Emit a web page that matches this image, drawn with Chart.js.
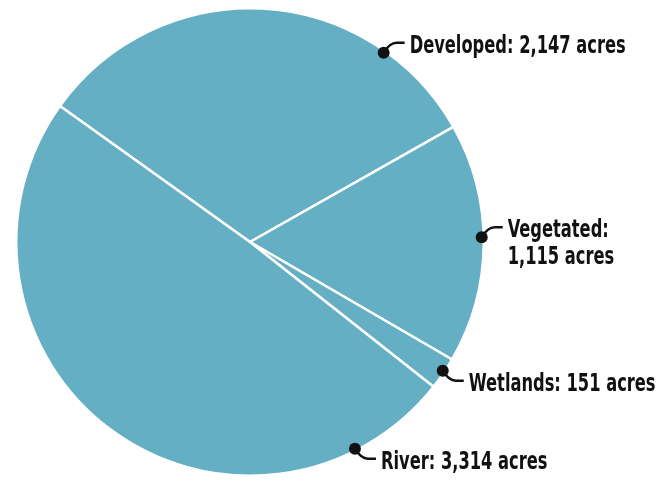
<!DOCTYPE html>
<html>
<head>
<meta charset="utf-8">
<script src="https://cdn.jsdelivr.net/npm/chart.js@4"></script>
<style>
  html, body { margin: 0; padding: 0; background: #ffffff; }
  #wrap { width: 661px; height: 484px; position: relative; }
</style>
</head>
<body>
<div id="wrap"><canvas id="chart"></canvas></div>
<script>
const categories = ["Developed", "Vegetated", "Wetlands", "River"];
const acres = [2147, 1115, 151, 3314];
const labelLines = [
    ["Developed: 2,147 acres"],
    ["Vegetated:", "1,115 acres"],
    ["Wetlands: 151 acres"],
    ["River: 3,314 acres"]
];
// where along each slice the callout dot sits (fraction of the arc)
const dotAt = [0.78, 0.475, 0.44, 0.14];
const leaderUp = [true, true, false, false];

const calloutPlugin = {
    id: "callouts",
    afterDraw(chart) {
        const ctx = chart.ctx;
        const arcs = chart.getDatasetMeta(0).data;
        ctx.save();
        ctx.font = 'bold 24px "Liberation Sans Narrow", "DejaVu Sans Condensed", sans-serif';
        ctx.fillStyle = "#111111";
        ctx.strokeStyle = "#111111";
        ctx.textBaseline = "alphabetic";
        // squeeze the text to the narrow look of the original
        const sx = 216 / ctx.measureText(labelLines[0][0]).width;
        arcs.forEach((arc, i) => {
            const a = arc.startAngle + dotAt[i] * (arc.endAngle - arc.startAngle);
            const r = arc.outerRadius - 2;
            const dx = arc.x + r * Math.cos(a);
            const dy = arc.y + r * Math.sin(a);
            const s = leaderUp[i] ? -1 : 1;

            ctx.lineWidth = 2.5;
            ctx.beginPath();
            ctx.moveTo(dx, dy);
            ctx.quadraticCurveTo(dx + 6, dy + s * 10, dx + 13, dy + s * 10);
            ctx.lineTo(dx + 21, dy + s * 10);
            ctx.stroke();

            ctx.beginPath();
            ctx.arc(dx, dy, 6, 0, Math.PI * 2);
            ctx.fill();

            const tx = dx + 26;
            const base = dy + s * 10 + 10;
            labelLines[i].forEach((line, j) => {
                ctx.save();
                ctx.translate(tx, base + j * 27);
                ctx.scale(sx, 1);
                ctx.fillText(line, 0, 0);
                ctx.restore();
            });
        });
        ctx.restore();
    }
};

new Chart(document.getElementById("chart"), {
    type: "pie",
    data: {
        labels: categories,
        datasets: [{
            data: acres,
            backgroundColor: "#64afc4",
            borderColor: "#ffffff",
            borderWidth: 2.5
        }]
    },
    options: {
        responsive: true,
        maintainAspectRatio: false,
        animation: false,
        rotation: -54.4,
        layout: {
            padding: { left: 15, top: 7, right: 176, bottom: 7 }
        },
        plugins: {
            legend: { display: false },
            tooltip: { enabled: false }
        }
    },
    plugins: [calloutPlugin]
});
</script>
</body>
</html>
